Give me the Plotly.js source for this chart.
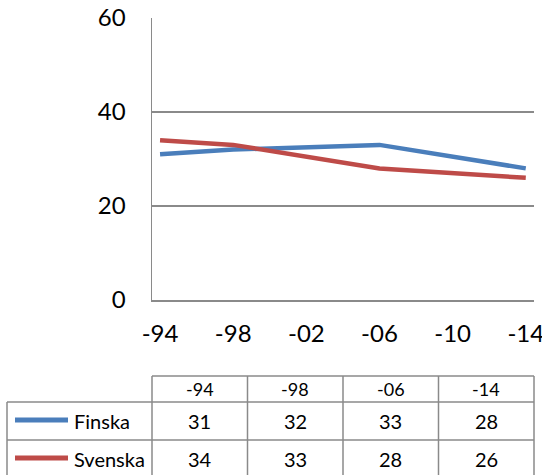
<!DOCTYPE html>
<html><head><meta charset="utf-8">
<script src="https://cdn.plot.ly/plotly-3.0.1.min.js"></script>
<style>html,body{margin:0;padding:0;background:#fff;overflow:hidden}</style>
</head><body><div id="chart" style="width:542px;height:475px"></div>
<script>
// ---- data ----
const years = [1994, 1998, 2006, 2014];
const tableLabels = ['-94', '-98', '-06', '-14'];
const axisYears = [1994, 1998, 2002, 2006, 2010, 2014];
const axisLabels = ['-94', '-98', '-02', '-06', '-10', '-14'];
const seriesNames = ['Finska', 'Svenska'];
const finska = [31, 32, 33, 28];
const svenska = [34, 33, 28, 26];
const yTicks = [0, 20, 40, 60];

// ---- styles ----
const colors = ['#4A7EBB', '#BE4B48'];
const gridColor = '#8a8a8a';
const font = 'Lato, "Open Sans", sans-serif';
const W = 542, H = 475;
const L = 152, R = 534, T = 18, B = 300;
const px = x => (x - L) / (R - L);
const py = y => (B - y) / (B - T);

const seriesValues = [finska, svenska];
const traces = seriesNames.map((n, i) => ({
  x: years, y: seriesValues[i], name: n, type: 'scatter', mode: 'lines',
  line: {color: colors[i], width: 4.5}, hoverinfo: 'skip'
}));

// ---- data table (shapes + annotations) ----
const shapes = [];
const annotations = [];
const lineStyle = {color: gridColor, width: 1.5};
const nCols = tableLabels.length;
const colEdges = [];
for (let c = 0; c <= nCols; c++) colEdges.push(c / nCols);
const headTop = 376, row1 = 402, row2 = 440, row3 = 478, tableLeft = 7;
shapes.push({type: 'line', xref: 'paper', yref: 'paper', x0: 0, x1: 1, y0: py(headTop), y1: py(headTop), line: lineStyle});
[row1, row2, row3].forEach(y => shapes.push({type: 'line', xref: 'paper', yref: 'paper', x0: px(tableLeft), x1: 1, y0: py(y), y1: py(y), line: lineStyle}));
colEdges.forEach(x => shapes.push({type: 'line', xref: 'paper', yref: 'paper', x0: x, x1: x, y0: py(headTop), y1: py(row3), line: lineStyle}));
shapes.push({type: 'line', xref: 'paper', yref: 'paper', x0: px(tableLeft), x1: px(tableLeft), y0: py(row1), y1: py(row3), line: lineStyle});
tableLabels.forEach((t, c) => annotations.push({
  xref: 'paper', yref: 'paper', x: (colEdges[c] + colEdges[c + 1]) / 2, y: py((headTop + row1) / 2),
  text: t, showarrow: false, xanchor: 'center', yanchor: 'middle', font: {family: font, size: 18, color: '#000'}
}));
const rowEdges = [row1, row2, row3];
seriesNames.forEach((n, r) => {
  const yc = (rowEdges[r] + rowEdges[r + 1]) / 2;
  shapes.push({type: 'line', xref: 'paper', yref: 'paper', x0: px(15), x1: px(68), y0: py(yc - 1), y1: py(yc - 1), line: {color: colors[r], width: 5}});
  annotations.push({xref: 'paper', yref: 'paper', x: px(72), y: py(yc), text: n, showarrow: false,
    xanchor: 'left', yanchor: 'middle', font: {family: font, size: 20, color: '#000'}});
  seriesValues[r].forEach((v, c) => annotations.push({
    xref: 'paper', yref: 'paper', x: (colEdges[c] + colEdges[c + 1]) / 2, y: py(yc),
    text: String(v), showarrow: false, xanchor: 'center', yanchor: 'middle', font: {family: font, size: 20, color: '#000'}
  }));
});

const layout = {
  width: W, height: H,
  margin: {l: L, r: W - R, t: T, b: H - B, pad: 0},
  paper_bgcolor: '#fff', plot_bgcolor: '#fff',
  showlegend: false,
  font: {family: font, color: '#000'},
  xaxis: {
    type: 'linear', range: [1993.56, 2014.45], tickvals: axisYears, ticktext: axisLabels,
    showgrid: false, zeroline: false, showline: true, linecolor: gridColor, linewidth: 1.5,
    ticks: '', tickfont: {family: font, size: 24, color: '#000'}, ticklabelstandoff: 12,
    ticklabeloverflow: 'allow', fixedrange: true
  },
  yaxis: {
    range: [0, 60], tickvals: yTicks, showgrid: true, gridcolor: gridColor, gridwidth: 1.5,
    zeroline: false, showline: true, linecolor: gridColor, linewidth: 1.5,
    ticks: '', tickfont: {family: font, size: 24, color: '#000'}, ticklabelstandoff: 20,
    ticklabeloverflow: 'allow', fixedrange: true
  },
  shapes: shapes,
  annotations: annotations
};

Plotly.newPlot('chart', traces, layout, {staticPlot: true, displayModeBar: false});
</script>
</body></html>
